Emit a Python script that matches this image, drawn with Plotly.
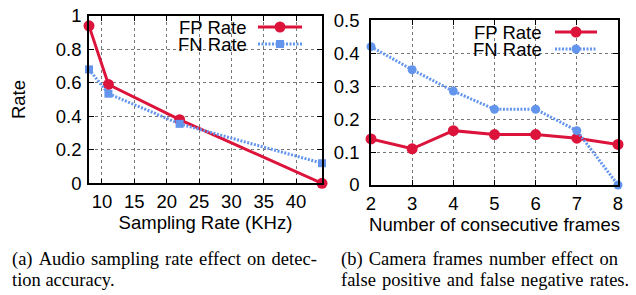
import plotly.graph_objects as go

# ---- data ----
rate_khz = [8, 11, 22, 44]
rate_fp = [0.94, 0.59, 0.38, 0.0]
rate_fn = [0.68, 0.535, 0.355, 0.12]

frames = [2, 3, 4, 5, 6, 7, 8]
frames_fp = [0.14, 0.11, 0.165, 0.153, 0.153, 0.142, 0.123]
frames_fn = [0.42, 0.35, 0.285, 0.23, 0.23, 0.165, 0.0]

left_xticks = [10, 15, 20, 25, 30, 35, 40]
left_yticks = [0, 0.2, 0.4, 0.6, 0.8, 1]
right_xticks = [2, 3, 4, 5, 6, 7, 8]
right_yticks = [0, 0.1, 0.2, 0.3, 0.4, 0.5]

series_names = ["FP Rate", "FN Rate"]
SP = "\u2004"  # slightly wider space to imitate justified text
caption_a = [SP.join(["(a)", "Audio", "sampling", "rate", "effect", "on", "detec-"]), "tion accuracy."]
caption_b = [SP.join(["(b)", "Camera", "frames", "number", "effect", "on"]),
             SP.join(["false", "positive", "and", "false", "negative", "rates."])]

# ---- style ----
# page body has an 8px default margin, so the figure is offset by 8px
OFF = 8
W, H = 636 - OFF, 295 - OFF
RED = "rgb(220,20,60)"
BLUE = "rgb(100,149,237)"
SANS = "Liberation Sans"
SERIF = "Liberation Serif"
FS = 18.5


def px(x):
    return (x - OFF) / W


def py(y):
    return 1 - (y - OFF) / H


fig = go.Figure()

fig.add_trace(go.Scatter(x=rate_khz, y=rate_fp, mode="lines+markers", name=series_names[0],
                         line=dict(color=RED, width=3),
                         marker=dict(symbol="circle", size=11, color=RED),
                         xaxis="x", yaxis="y", cliponaxis=False, showlegend=False))
fig.add_trace(go.Scatter(x=rate_khz, y=rate_fn, mode="lines+markers", name=series_names[1],
                         line=dict(color=BLUE, width=3, dash="2px,1.5px"),
                         marker=dict(symbol="square", size=8, color=BLUE),
                         xaxis="x", yaxis="y", cliponaxis=False, showlegend=False))
fig.add_trace(go.Scatter(x=frames, y=frames_fp, mode="lines+markers", name=series_names[0],
                         line=dict(color=RED, width=3),
                         marker=dict(symbol="circle", size=11, color=RED),
                         xaxis="x2", yaxis="y2", cliponaxis=False, showlegend=False))
fig.add_trace(go.Scatter(x=frames, y=frames_fn, mode="lines+markers", name=series_names[1],
                         line=dict(color=BLUE, width=3, dash="2px,1.5px"),
                         marker=dict(symbol="circle", size=9, color=BLUE),
                         xaxis="x2", yaxis="y2", cliponaxis=False, showlegend=False))

axis_common = dict(showline=True, mirror="ticks", linecolor="black", linewidth=1.5,
                   ticks="inside", ticklen=5, tickwidth=1, tickcolor="black",
                   showgrid=True, gridcolor="#777777", gridwidth=1, griddash="dot",
                   zeroline=False, automargin=False, ticklabeloverflow="allow",
                   tickfont=dict(family=SANS, size=FS, color="black"))

fig.update_layout(
    width=W, height=H, autosize=False,
    margin=dict(l=0, r=0, t=0, b=0, pad=0),
    paper_bgcolor="white", plot_bgcolor="white",
    font=dict(family=SANS, size=FS, color="black"),
    showlegend=False,
    xaxis=dict(axis_common, domain=[px(89), px(322)], range=[8, 44], tickvals=left_xticks,
               anchor="y", ticklabelstandoff=1,
               title=dict(text="Sampling Rate (KHz)", font=dict(family=SANS, size=FS), standoff=4)),
    yaxis=dict(axis_common, domain=[py(183.3), py(15.8)], range=[0, 1], tickvals=left_yticks,
               anchor="x", ticklabelstandoff=2,
               title=dict(text="Rate", font=dict(family=SANS, size=FS), standoff=28)),
    xaxis2=dict(axis_common, domain=[px(371), px(618)], range=[2, 8], tickvals=right_xticks,
                anchor="y2", ticklabelstandoff=1,
                title=dict(text="Number of consecutive frames", font=dict(family=SANS, size=FS), standoff=4)),
    yaxis2=dict(axis_common, domain=[py(185), py(20.3)], range=[0, 0.5], tickvals=right_yticks,
                anchor="x2", ticklabelstandoff=6),
)

shapes = []
annotations = []

# legend boxes (white, hide grid)
for (x0, x1, y0, y1) in [(180, 313, 17, 51), (485, 606, 21, 56)]:
    shapes.append(dict(type="rect", xref="paper", yref="paper", x0=px(x0), x1=px(x1),
                       y0=py(y1), y1=py(y0), fillcolor="white", line=dict(width=0),
                       layer="between"))

# legend entries
legends = [
    (248, 258, 302, [27, 44], ["circle", "square"], [11, 8]),
    (543, 555, 597, [32, 49], ["circle", "circle"], [11, 9]),
]
for (tx, lx0, lx1, rows, syms, sizes) in legends:
    for i, (name, color) in enumerate(zip(series_names, [RED, BLUE])):
        y = rows[i]
        annotations.append(dict(text=name, xref="paper", yref="paper", x=px(tx), y=py(y),
                                xanchor="right", yanchor="middle", showarrow=False,
                                height=18, valign="middle", borderpad=0,
                                font=dict(family=SANS, size=FS, color="black")))
        shapes.append(dict(type="line", xref="paper", yref="paper", x0=px(lx0), x1=px(lx1),
                           y0=py(y), y1=py(y), layer="above",
                           line=dict(color=color, width=3, dash="solid" if i == 0 else "2px,1.5px")))
        xm, s = (lx0 + lx1) / 2, sizes[i] / 2
        shapes.append(dict(type="circle" if syms[i] == "circle" else "rect",
                           xref="paper", yref="paper", x0=px(xm - s), x1=px(xm + s),
                           y0=py(y + s), y1=py(y - s), fillcolor=color, line=dict(width=0),
                           layer="above"))

# captions
for (x, lines) in [(10, caption_a), (339, caption_b)]:
    for j, line in enumerate(lines):
        annotations.append(dict(text=line, xref="paper", yref="paper", x=px(x), y=py(259 + 21 * j),
                                xanchor="left", yanchor="middle", showarrow=False,
                                font=dict(family=SERIF, size=18.5, color="black")))

fig.update_layout(shapes=shapes, annotations=annotations)
fig.write_html("out.html")
